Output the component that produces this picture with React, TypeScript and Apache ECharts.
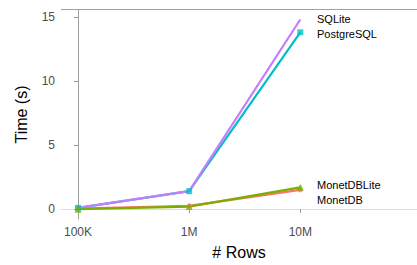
import React, { useEffect, useRef } from "react";
import * as echarts from "echarts";

const categories = ["100K", "1M", "10M"];
const sqlite = [0.1, 1.4, 14.8];
const postgres = [0.1, 1.4, 13.8];
const monetdblite = [0.0, 0.2, 1.7];
const monetdb = [0.05, 0.25, 1.5];
const yTicks = [0, 5, 10, 15];
const xTicks = [0, 1, 2];

export default function App() {
  const ref = useRef<HTMLDivElement>(null);
  useEffect(() => {
    const chart = echarts.init(ref.current!, null, { renderer: "svg" });
    const line = (name: string, data: number[], color: string, z: number) => ({
      name,
      type: "line",
      data: data.map((v, i) => [i, v]),
      symbol: "none",
      z,
      lineStyle: { color, width: 2.2 },
      itemStyle: { color },
    });
    const pts = (name: string, data: number[], color: string, symbol: string, size: number, z: number) => ({
      name,
      type: "scatter",
      data: data.map((v, i) => [i, v]),
      symbol,
      symbolSize: size,
      z,
      itemStyle: { color },
    });
    chart.setOption({
      animation: false,
      grid: { left: 61, right: 0, top: 10, bottom: 44 },
      xAxis: {
        type: "value",
        min: -0.153,
        max: 3.05,
        name: "# Rows",
        nameLocation: "middle",
        nameGap: 25,
        nameTextStyle: { color: "#000", fontSize: 16, fontFamily: "Liberation Sans" },
        axisLine: { show: true, lineStyle: { color: "#dcdcdc", width: 1 } },
        axisTick: { show: true, customValues: xTicks, length: 4, lineStyle: { color: "#999" } },
        axisLabel: {
          customValues: xTicks,
          formatter: (v: number) => categories[Math.round(v)] ?? "",
          color: "#4d4d4d",
          fontSize: 12,
          fontFamily: "Liberation Sans",
          margin: 7,
        },
        splitLine: { show: false },
      },
      yAxis: {
        type: "value",
        min: -0.77,
        max: 15.54,
        name: "Time (s)",
        nameLocation: "middle",
        nameGap: 32,
        nameTextStyle: { color: "#000", fontSize: 16, fontFamily: "Liberation Sans" },
        axisLine: { show: true, lineStyle: { color: "#a0a0a0", width: 1 } },
        axisTick: { show: true, customValues: yTicks, length: 4, lineStyle: { color: "#999" } },
        axisLabel: {
          customValues: yTicks,
          color: "#4d4d4d",
          fontSize: 12,
          fontFamily: "Liberation Sans",
          margin: 6,
        },
        splitLine: { show: false },
      },
      graphic: [
        { type: "line", shape: { x1: 61, y1: 9.5, x2: 417, y2: 9.5 }, style: { stroke: "#a0a0a0", lineWidth: 1 } },
        { type: "text", x: 317, y: 19, style: { text: "SQLite", fill: "#000", font: "11px Liberation Sans", verticalAlign: "middle" } },
        { type: "text", x: 317, y: 34, style: { text: "PostgreSQL", fill: "#000", font: "11px Liberation Sans", verticalAlign: "middle" } },
        { type: "text", x: 317, y: 185, style: { text: "MonetDBLite", fill: "#000", font: "11px Liberation Sans", verticalAlign: "middle" } },
        { type: "text", x: 317, y: 200, style: { text: "MonetDB", fill: "#000", font: "11px Liberation Sans", verticalAlign: "middle" } },
      ],
      series: [
        line("MonetDB", monetdb, "#F8766D", 1),
        line("PostgreSQL", postgres, "#00BFC4", 2),
        line("SQLite", sqlite, "#C77CFF", 3),
        line("MonetDBLite", monetdblite, "#7CAE00", 4),
        pts("MonetDB", monetdb, "#F8766D", "circle", 5, 5),
        pts("PostgreSQL", postgres, "#00BFC4", "rect", 6, 6),
        pts("MonetDBLite", monetdblite, "#7CAE00", "triangle", 7, 7),
      ],
    });
    return () => chart.dispose();
  }, []);
  return <div ref={ref} style={{ position: "absolute", left: 0, top: 0, width: 417, height: 265 }} />;
}
